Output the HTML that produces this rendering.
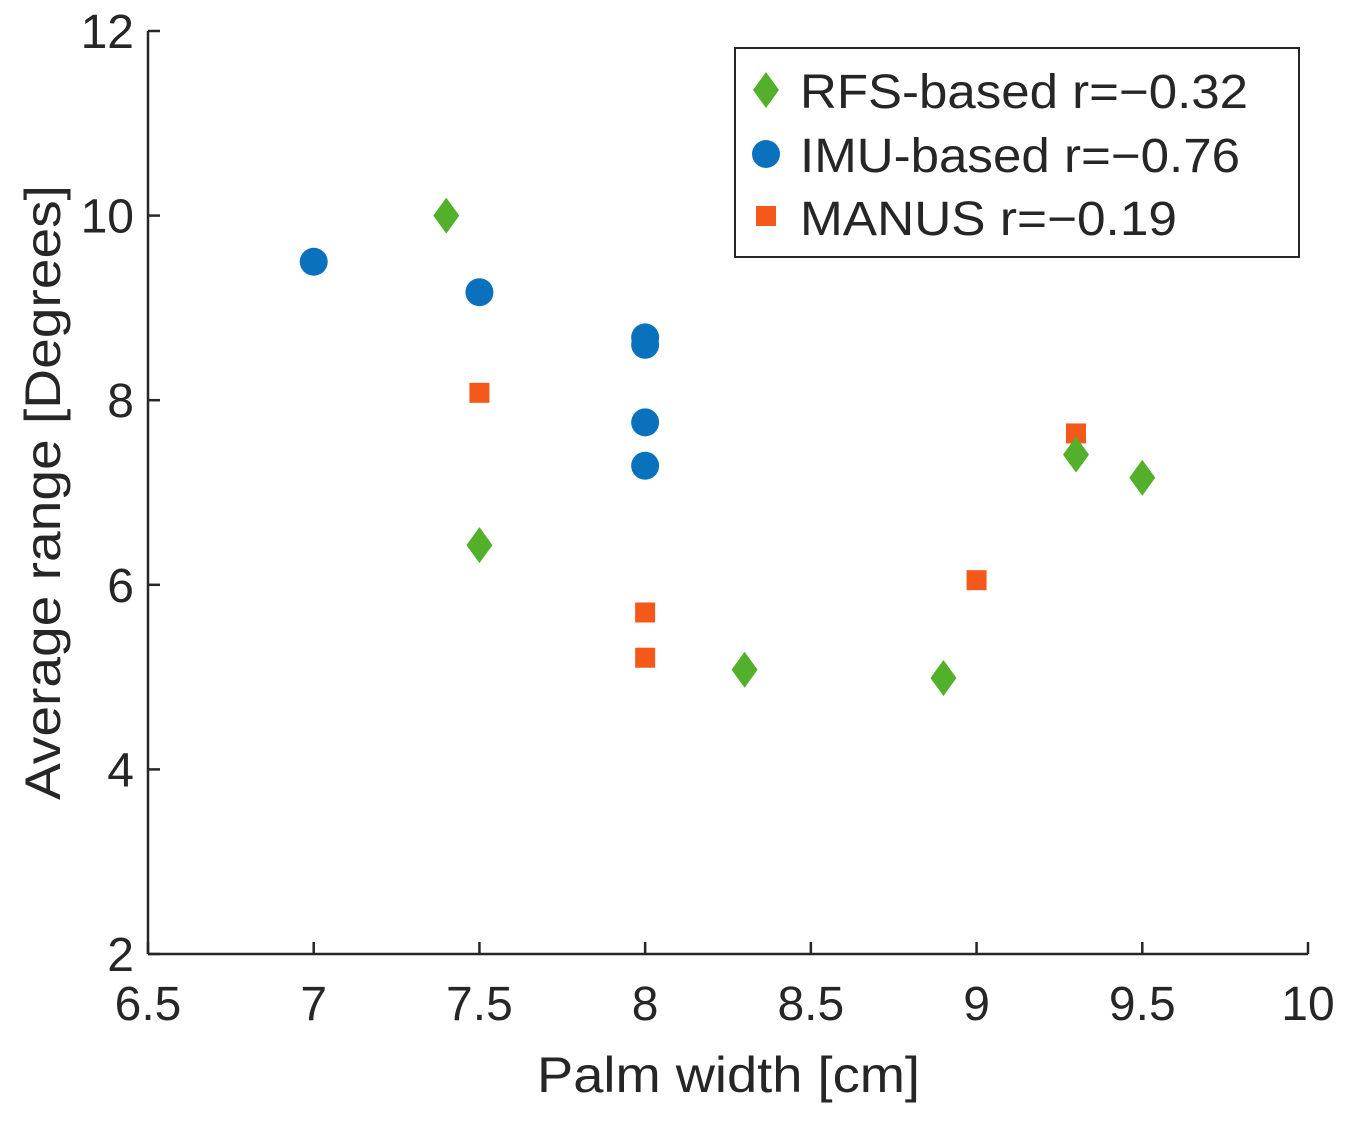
<!DOCTYPE html>
<html><head><meta charset="utf-8"><style>
html,body{margin:0;padding:0;background:#fff;}
svg{display:block;font-family:"Liberation Sans",Arial,sans-serif;}
</style></head><body>
<svg id="chart" width="1348" height="1123" viewBox="0 0 1348 1123" xmlns="http://www.w3.org/2000/svg">
<g id="axes"></g>
<g id="marks"></g>
<text x="537" y="1092" font-size="50" fill="#262626" textLength="383" lengthAdjust="spacingAndGlyphs">Palm width [cm]</text>
<text transform="translate(60,800) rotate(-90)" font-size="50" fill="#262626" textLength="615" lengthAdjust="spacingAndGlyphs">Average range [Degrees]</text>
<g>
<rect x="735" y="48" width="564" height="209" fill="#fff" stroke="#262626" stroke-width="2"/>
<polygon points="766,72 779,90 766,108 753,90" fill="#53b02b"/>
<text x="800" y="108" font-size="48" fill="#262626" textLength="448" lengthAdjust="spacingAndGlyphs">RFS-based r=−0.32</text>
<circle cx="766" cy="154" r="14" fill="#0a72bd"/>
<text x="800" y="172" font-size="48" fill="#262626" textLength="440" lengthAdjust="spacingAndGlyphs">IMU-based r=−0.76</text>
<rect x="756" y="206" width="20" height="20" fill="#f4581b"/>
<text x="800" y="235" font-size="48" fill="#262626" textLength="377" lengthAdjust="spacingAndGlyphs">MANUS r=−0.19</text>
</g>
</svg>
<script>
const xTicks = [6.5,7,7.5,8,8.5,9,9.5,10];
const yTicks = [2,4,6,8,10,12];
const rfsX = [7.4,7.5,8.3,8.9,9.3,9.5];
const rfsY = [10,6.43,5.08,4.99,7.41,7.16];
const imuX = [7,7.5,8,8,8,8];
const imuY = [9.5,9.17,8.68,8.6,7.76,7.29];
const manusX = [7.5,8,8,9,9.3];
const manusY = [8.08,5.7,5.21,6.05,7.64];

const NS='http://www.w3.org/2000/svg';
const x0=148,x1=1308,y0=954,y1=31;
const sx=v=>x0+(v-6.5)/(10-6.5)*(x1-x0);
const sy=v=>y0-(v-2)/(12-2)*(y0-y1);
function mk(tag,attrs,parent){const e=document.createElementNS(NS,tag);for(const k in attrs)e.setAttribute(k,attrs[k]);parent.appendChild(e);return e;}
const ax=document.getElementById('axes'),mg=document.getElementById('marks');
let l=mk('line',{x1:x0,y1:y0,x2:x1,y2:y0,stroke:'#262626','stroke-width':2.5},ax);


l=mk('line',{x1:x0,y1:y0,x2:x0,y2:y1,stroke:'#262626','stroke-width':2.5},ax);


xTicks.forEach(v=>{
  const t=mk('line',{x1:sx(v),y1:y0,x2:sx(v),y2:y0-12,stroke:'#262626','stroke-width':2.5},ax);
  
  
  const tx=mk('text',{x:sx(v),y:1020,'font-size':48,fill:'#262626','text-anchor':'middle'},ax);
  tx.textContent=v;
  
  
});
yTicks.forEach(v=>{
  const t=mk('line',{x1:x0,y1:sy(v),x2:x0+12,y2:sy(v),stroke:'#262626','stroke-width':2.5},ax);
  
  
  const tx=mk('text',{x:134,y:sy(v)+17,'font-size':48,fill:'#262626','text-anchor':'end'},ax);
  tx.textContent=v;
  
  
});
imuX.forEach((v,i)=>{
  const c=mk('circle',{cx:sx(v),cy:sy(imuY[i]),r:14,fill:'#0a72bd'},mg);
  
  
});
manusX.forEach((v,i)=>{
  const c=mk('rect',{x:sx(v)-10,y:sy(manusY[i])-10,width:20,height:20,fill:'#f4581b'},mg);
  
  
});
rfsX.forEach((v,i)=>{
  const X=sx(v),Y=sy(rfsY[i]);
  const c=mk('polygon',{points:`${X},${Y-18} ${X+13},${Y} ${X},${Y+18} ${X-13},${Y}`,fill:'#53b02b'},mg);
  
  
});
</script>
</body></html>
